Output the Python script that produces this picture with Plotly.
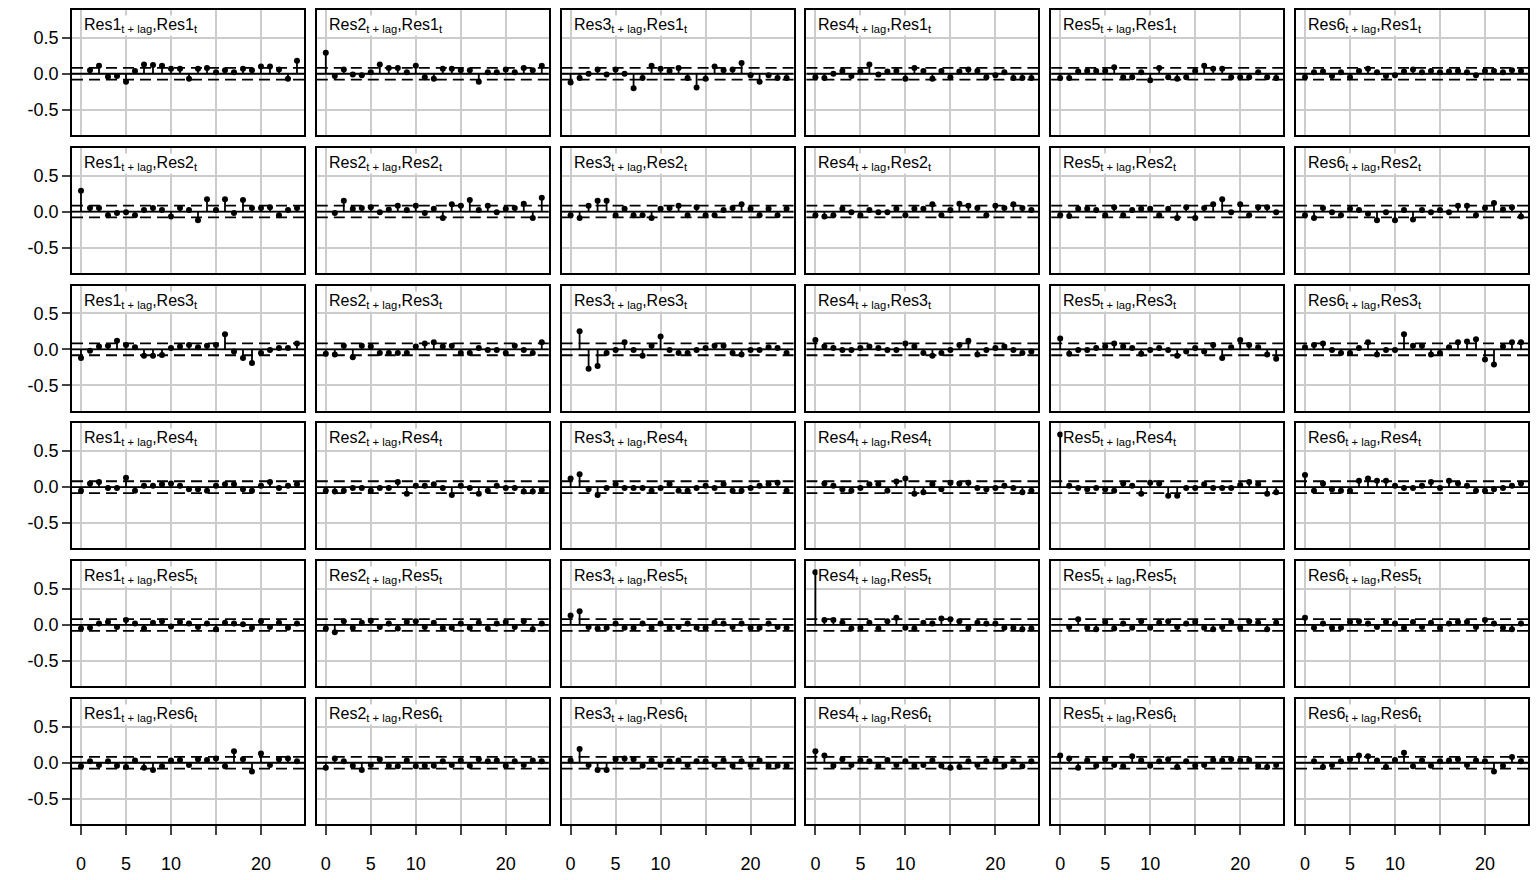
import plotly.graph_objs as go

# cross-correlations: ccf_j_i = corr(Res j at t+lag, Res i at t)
# off-diagonal panels run over lags 0..24, diagonal ones over lags 1..24
lags_full = list(range(0, 25))
lags_auto = list(range(1, 25))
x_ticks = [0, 5, 10, 20]
x_minor = [15]
y_ticks = [-0.5, 0.0, 0.5]
y_tick_text = ["-0.5", "0.0", "0.5"]
conf_band = 0.082

# row 1: Res1_t
ccf_1_1 = [0.05, 0.11, -0.04, -0.03, -0.11, 0.04, 0.13, 0.12, 0.11, 0.07, 0.07, -0.07,
           0.07, 0.08, 0.02, 0.05, 0.02, 0.07, 0.05, 0.10, 0.10, 0.06, -0.07, 0.18]
ccf_2_1 = [0.29, -0.03, 0.06, -0.01, -0.02, 0.02, 0.13, 0.08, 0.08, 0.02, 0.11, -0.05, -0.07,
           0.07, 0.07, 0.05, 0.05, -0.11, 0.02, 0.02, 0.06, 0.02, 0.08, 0.05, 0.11]
ccf_3_1 = [-0.12, -0.06, 0.00, 0.06, -0.01, 0.06, 0.00, -0.20, -0.06, 0.11, 0.07, 0.04, 0.08,
           -0.06, -0.19, -0.07, 0.10, 0.05, 0.06, 0.15, -0.02, -0.11, -0.02, -0.06, -0.06]
ccf_4_1 = [-0.05, -0.06, 0.00, 0.04, -0.03, 0.03, 0.13, -0.01, 0.03, 0.04, -0.07, 0.08, 0.04,
           -0.07, 0.04, -0.05, 0.03, 0.06, 0.04, -0.05, -0.02, 0.02, -0.06, -0.06, -0.06]
ccf_5_1 = [-0.06, -0.06, 0.03, 0.04, 0.04, 0.04, 0.09, -0.05, -0.05, 0.02, -0.09, 0.08, -0.05,
           -0.07, -0.05, 0.04, 0.11, 0.07, 0.07, -0.05, -0.05, -0.05, 0.02, -0.05, -0.06]
ccf_6_1 = [-0.05, 0.02, 0.03, -0.03, 0.02, -0.05, 0.04, 0.07, 0.02, -0.03, -0.02, 0.03, 0.06,
           0.02, 0.04, 0.02, 0.03, 0.04, 0.02, -0.02, 0.04, 0.04, 0.02, 0.05, 0.04]

# row 2: Res2_t
ccf_1_2 = [0.29, 0.05, 0.05, -0.05, -0.02, -0.01, -0.05, 0.02, 0.05, 0.02, -0.07, 0.05, 0.02,
           -0.12, 0.17, 0.02, 0.17, -0.02, 0.16, 0.05, 0.05, 0.06, -0.05, 0.02, 0.05]
ccf_2_2 = [-0.02, 0.15, 0.04, 0.05, 0.06, -0.01, 0.03, 0.08, 0.02, 0.08, -0.02, 0.04,
           -0.09, 0.10, 0.08, 0.16, 0.02, 0.08, -0.01, 0.04, 0.05, 0.11, -0.09, 0.19]
ccf_3_2 = [-0.05, -0.09, 0.08, 0.15, 0.15, -0.05, 0.04, -0.05, -0.05, -0.09, 0.04, 0.05, 0.08,
           -0.05, 0.06, -0.05, -0.05, 0.02, 0.05, 0.10, 0.04, -0.05, 0.04, -0.05, 0.04]
ccf_4_2 = [-0.05, -0.07, -0.05, 0.04, -0.01, -0.05, 0.02, -0.01, -0.01, 0.04, -0.05, 0.04, 0.04,
           0.10, -0.05, 0.02, 0.11, 0.08, 0.05, -0.05, 0.08, 0.05, 0.10, 0.05, 0.02]
ccf_5_2 = [-0.05, -0.06, 0.04, 0.04, 0.02, -0.05, 0.06, -0.05, 0.02, 0.04, 0.04, -0.05, 0.04,
           -0.09, 0.06, -0.09, 0.05, 0.10, 0.17, -0.01, 0.10, -0.05, 0.06, 0.06, -0.01]
ccf_6_2 = [-0.05, -0.09, 0.05, -0.01, -0.05, 0.04, 0.02, -0.03, -0.12, -0.01, -0.12, 0.02, -0.11,
           0.02, -0.01, 0.02, -0.01, 0.08, 0.08, -0.05, 0.05, 0.12, 0.03, 0.06, -0.07]

# row 3: Res3_t
ccf_1_3 = [-0.12, -0.02, 0.04, 0.05, 0.12, 0.06, 0.03, -0.09, -0.09, -0.08, 0.02, 0.04, 0.06,
           0.03, 0.05, 0.06, 0.21, -0.03, -0.12, -0.19, -0.05, -0.01, 0.02, 0.02, 0.08]
ccf_2_3 = [-0.06, -0.07, 0.05, -0.11, 0.05, 0.04, -0.05, -0.05, -0.05, -0.05, 0.04, 0.08, 0.10,
           0.04, 0.05, -0.05, -0.05, 0.02, -0.01, -0.01, -0.05, 0.05, -0.01, -0.05, 0.10]
ccf_3_3 = [0.25, -0.27, -0.23, -0.05, -0.01, 0.10, -0.01, -0.09, 0.05, 0.18, -0.01, -0.05,
           -0.05, -0.01, 0.02, 0.05, 0.05, -0.05, -0.07, -0.01, -0.01, 0.03, 0.02, -0.05]
ccf_4_3 = [0.13, 0.04, 0.02, -0.01, -0.01, 0.02, 0.04, 0.02, -0.01, -0.01, 0.08, 0.04, -0.05,
           -0.09, -0.05, -0.01, 0.06, 0.12, -0.07, -0.01, 0.02, 0.04, -0.01, -0.05, -0.03]
ccf_5_3 = [0.15, -0.06, -0.01, -0.01, 0.02, 0.04, 0.08, 0.04, 0.02, -0.06, -0.01, 0.02, -0.01,
           -0.09, -0.03, 0.02, -0.03, 0.06, -0.12, 0.03, 0.13, 0.06, 0.03, -0.07, -0.13]
ccf_6_3 = [0.03, 0.06, 0.08, -0.01, -0.05, -0.05, 0.02, 0.10, -0.07, -0.01, -0.01, 0.21, 0.05,
           0.05, -0.07, -0.05, 0.03, 0.10, 0.11, 0.14, -0.14, -0.21, 0.04, 0.10, 0.10]

# row 4: Res4_t
ccf_1_4 = [-0.05, 0.05, 0.07, -0.01, -0.01, 0.13, -0.05, 0.02, 0.02, 0.04, 0.05, 0.02, -0.03,
           -0.03, -0.05, 0.02, 0.04, 0.04, -0.03, -0.05, 0.02, 0.07, -0.01, 0.02, 0.04]
ccf_2_4 = [-0.05, -0.06, -0.05, -0.01, -0.01, -0.05, -0.01, -0.01, 0.07, -0.09, 0.02, 0.02, 0.04,
           -0.01, -0.11, 0.02, -0.01, -0.09, -0.05, 0.02, -0.01, -0.01, -0.06, -0.06, -0.04]
ccf_3_4 = [0.12, 0.18, -0.03, -0.11, -0.01, 0.04, -0.01, -0.01, -0.01, -0.05, -0.01, 0.04, -0.05,
           -0.05, -0.01, 0.02, -0.01, 0.04, -0.05, -0.05, -0.01, 0.02, 0.04, 0.06, -0.05]
ccf_4_4 = [0.05, 0.02, -0.03, -0.05, -0.01, 0.04, 0.04, -0.05, 0.08, 0.12, -0.09, -0.07,
           0.04, -0.03, 0.06, 0.05, 0.06, -0.01, -0.03, -0.01, 0.02, -0.01, -0.07, -0.05]
ccf_5_4 = [0.73, 0.02, -0.01, -0.03, -0.01, -0.03, -0.05, 0.05, 0.02, -0.09, 0.06, 0.05, -0.12,
           -0.12, -0.01, -0.01, 0.04, -0.01, -0.01, -0.01, 0.03, 0.07, 0.04, -0.09, -0.07]
ccf_6_4 = [0.17, -0.05, 0.05, -0.03, -0.05, -0.05, 0.09, 0.12, 0.09, 0.09, 0.02, -0.01, -0.01,
           0.02, 0.07, -0.01, 0.09, 0.05, 0.02, -0.05, -0.05, -0.03, -0.01, 0.02, 0.05]

# row 5: Res5_t
ccf_1_5 = [-0.05, -0.04, 0.02, 0.04, -0.03, 0.07, 0.02, -0.05, 0.03, 0.05, -0.02, 0.04, 0.02,
           -0.03, 0.02, -0.06, 0.03, 0.02, 0.01, -0.04, 0.05, -0.03, 0.03, -0.04, 0.02]
ccf_2_5 = [-0.05, -0.10, 0.05, -0.04, 0.03, 0.06, -0.03, 0.02, -0.05, 0.04, 0.05, -0.03, 0.03,
           -0.04, -0.04, 0.02, -0.04, 0.03, -0.05, 0.02, 0.04, -0.03, 0.05, -0.06, 0.02]
ccf_3_5 = [0.13, 0.19, -0.03, -0.05, -0.04, 0.02, -0.04, -0.04, 0.02, -0.04, 0.02, -0.04, -0.03,
           0.02, -0.04, -0.04, 0.03, 0.02, -0.03, 0.02, -0.04, -0.04, 0.02, -0.03, -0.04]
ccf_4_5 = [0.73, 0.07, 0.07, 0.03, -0.05, -0.04, 0.03, -0.05, 0.05, 0.10, -0.04, -0.05, 0.03,
           0.02, 0.09, 0.08, 0.05, -0.04, 0.03, 0.02, 0.02, -0.04, -0.04, -0.06, -0.05]
ccf_5_5 = [-0.03, 0.08, -0.04, -0.06, 0.04, -0.05, 0.02, -0.04, 0.05, -0.04, 0.03, 0.05,
           -0.03, 0.02, 0.04, -0.04, -0.06, -0.03, 0.04, -0.04, 0.05, 0.03, -0.06, 0.03]
ccf_6_5 = [0.10, -0.04, 0.02, -0.04, -0.04, 0.04, 0.05, 0.02, -0.03, 0.04, 0.02, -0.04, 0.04,
           -0.03, 0.03, -0.04, 0.02, 0.04, 0.04, -0.03, 0.07, 0.02, -0.04, -0.06, 0.02]

# row 6: Res6_t
ccf_1_6 = [-0.05, 0.02, -0.03, 0.02, -0.04, -0.06, 0.03, -0.07, -0.10, -0.05, 0.03, 0.04, -0.03,
           0.05, 0.04, 0.06, -0.05, 0.16, 0.05, -0.12, 0.13, -0.03, 0.05, 0.06, 0.02]
ccf_2_6 = [-0.07, 0.06, 0.02, -0.04, -0.10, -0.03, 0.05, -0.04, -0.05, 0.03, -0.05, -0.04, -0.04,
           0.02, -0.03, 0.03, -0.04, 0.05, 0.02, 0.03, -0.04, 0.02, -0.03, 0.03, 0.02]
ccf_3_6 = [0.03, 0.19, -0.03, -0.10, -0.10, 0.05, 0.06, 0.05, -0.04, 0.03, -0.03, 0.02, 0.03,
           -0.03, 0.02, 0.02, -0.03, 0.03, -0.04, 0.02, -0.03, 0.03, -0.04, -0.04, -0.04]
ccf_4_6 = [0.16, 0.10, -0.04, 0.05, -0.03, 0.03, 0.02, -0.04, 0.04, -0.03, 0.02, -0.04, -0.03,
           0.03, -0.04, -0.07, -0.06, 0.02, -0.03, 0.02, 0.03, -0.04, 0.02, -0.05, 0.02]
ccf_5_6 = [0.10, 0.06, -0.07, 0.03, -0.04, 0.05, -0.03, -0.05, 0.09, 0.03, -0.04, 0.02, 0.05,
           -0.06, 0.02, -0.04, -0.03, 0.04, 0.03, 0.05, 0.03, 0.04, -0.04, -0.06, -0.03]
ccf_6_6 = [0.02, -0.06, -0.03, 0.02, 0.05, 0.10, 0.09, 0.03, -0.06, 0.04, 0.14, -0.05, 0.03,
           -0.04, 0.02, 0.03, 0.05, -0.03, 0.03, 0.02, -0.12, -0.04, 0.08, 0.02]

panels = [
    [ccf_1_1, ccf_2_1, ccf_3_1, ccf_4_1, ccf_5_1, ccf_6_1],
    [ccf_1_2, ccf_2_2, ccf_3_2, ccf_4_2, ccf_5_2, ccf_6_2],
    [ccf_1_3, ccf_2_3, ccf_3_3, ccf_4_3, ccf_5_3, ccf_6_3],
    [ccf_1_4, ccf_2_4, ccf_3_4, ccf_4_4, ccf_5_4, ccf_6_4],
    [ccf_1_5, ccf_2_5, ccf_3_5, ccf_4_5, ccf_5_5, ccf_6_5],
    [ccf_1_6, ccf_2_6, ccf_3_6, ccf_4_6, ccf_5_6, ccf_6_6],
]

# the page body keeps an 8px margin, so the figure is drawn 8px smaller
OFF = 8
W, H = 1540 - OFF, 880 - OFF
FONT = "Liberation Sans, Arial, sans-serif"
GRID = "#cccccc"

fig = go.Figure()
layout = dict(width=W, height=H, margin=dict(l=0, r=0, t=0, b=0),
              plot_bgcolor="white", paper_bgcolor="white", showlegend=False,
              font=dict(family=FONT, color="black"))
shapes = []
annotations = []

for r in range(6):
    for c in range(6):
        n = r * 6 + c + 1
        sfx = "" if n == 1 else str(n)
        vals = panels[r][c]
        lags = lags_auto if r == c else lags_full

        # panel position in (reference) pixels
        left = 72 + c * 244.8 - OFF
        top = 10 + r * 137.8 - OFF
        xdom = [left / W, (left + 232) / W]
        ydom = [1 - (top + 125) / H, 1 - top / H]

        bottom_row = r == 5
        first_col = c == 0
        layout["xaxis" + sfx] = dict(
            domain=xdom, anchor="y" + sfx, range=[-1, 24.78],
            tickvals=x_ticks, showticklabels=bottom_row,
            ticks="outside" if bottom_row else "", ticklen=9, tickwidth=1.5,
            ticklabelstandoff=14, tickfont=dict(size=18),
            minor=dict(tickvals=x_minor, showgrid=True, gridcolor=GRID, gridwidth=1.5,
                       ticks="outside" if bottom_row else "", ticklen=9, tickwidth=1.5),
            showgrid=True, gridcolor=GRID, gridwidth=1.5, zeroline=False,
            showline=True, mirror=True, linecolor="black", linewidth=1.5)
        layout["yaxis" + sfx] = dict(
            domain=ydom, anchor="x" + sfx, range=[-0.85, 0.885],
            tickvals=y_ticks, ticktext=y_tick_text, showticklabels=first_col,
            ticks="outside" if first_col else "", ticklen=8, tickwidth=1.5,
            tickfont=dict(size=18),
            showgrid=True, gridcolor=GRID, gridwidth=1.5, zeroline=False,
            showline=True, mirror=True, linecolor="black", linewidth=1.5)

        # zero line and significance band
        xd, yr = "x" + sfx + " domain", "y" + sfx
        shapes.append(dict(type="line", xref=xd, yref=yr, x0=0, x1=1, y0=0, y1=0,
                           line=dict(color="black", width=1.8)))
        for b in (conf_band, -conf_band):
            shapes.append(dict(type="line", xref=xd, yref=yr, x0=0, x1=1, y0=b, y1=b,
                               line=dict(color="black", width=1.8, dash="11px,6px")))

        # stems
        sx, sy = [], []
        for k, v in zip(lags, vals):
            sx += [k, k, None]
            sy += [0, v, None]
        fig.add_trace(go.Scatter(x=sx, y=sy, mode="lines", xaxis="x" + sfx, yaxis="y" + sfx,
                                 line=dict(color="black", width=1.8), hoverinfo="skip"))
        fig.add_trace(go.Scatter(x=lags, y=vals, mode="markers", xaxis="x" + sfx,
                                 yaxis="y" + sfx, marker=dict(color="black", size=6)))

        label = "Res%d<sub>t + lag</sub>,Res%d<sub>t</sub>" % (c + 1, r + 1)
        annotations.append(dict(text=label, xref=xd, yref="y" + sfx + " domain",
                                x=0, y=1, xanchor="left", yanchor="top", showarrow=False,
                                bgcolor="white", borderpad=0, xshift=11, yshift=-5,
                                font=dict(size=16, family=FONT, color="black")))

layout["shapes"] = shapes
layout["annotations"] = annotations
fig.update_layout(**layout)
fig.write_html("out.html")
